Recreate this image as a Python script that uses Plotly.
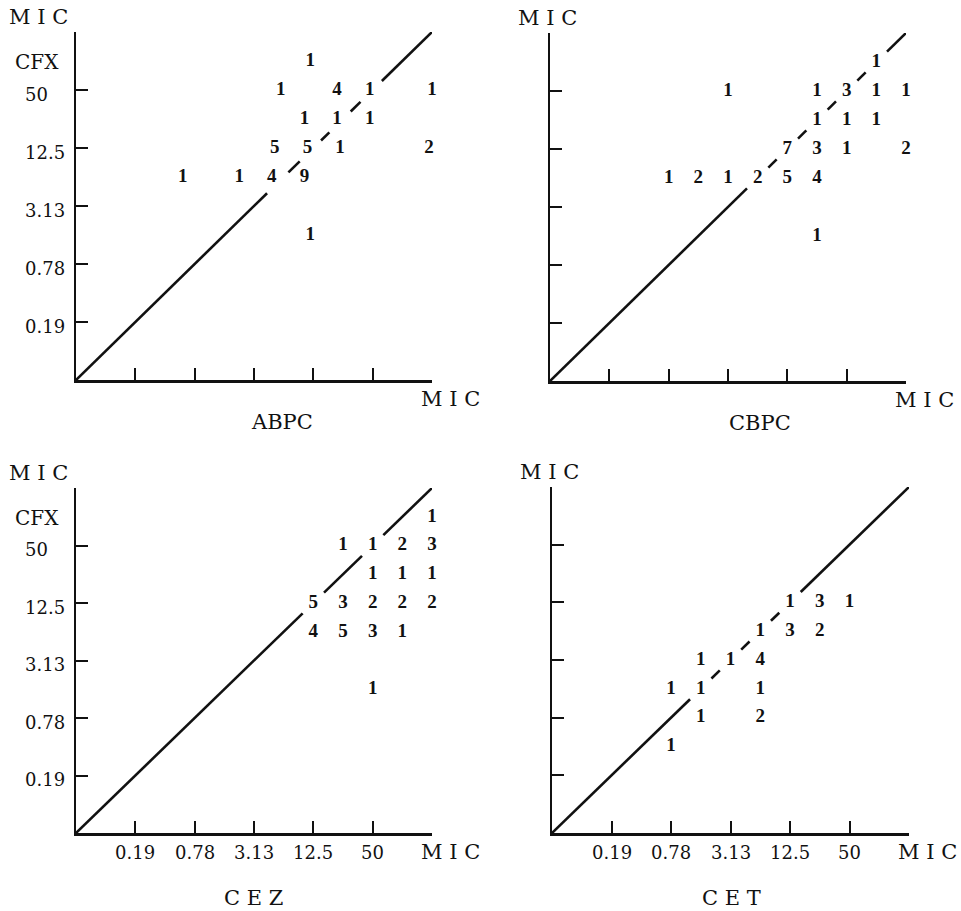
import plotly.graph_objects as go

W, H = 961, 911

# Dilution steps on both axes (0 = origin, 6 = top); labelled steps
tick_steps = [1, 2, 3, 4, 5]
tick_labels = ["0.19", "0.78", "3.13", "12.5", "50"]

panel_names = ["ABPC", "CBPC", "CEZ", "CET"]
y_drug = "CFX"

# ---- data: x = MIC step of compared drug, y = MIC step of CFX, n = number of strains
abpc_x = [3.95, 3.45, 4.4, 4.95, 6.0, 3.85, 4.4, 4.95, 3.35, 3.9, 4.45, 5.95, 1.8, 2.75, 3.3, 3.85, 3.95]
abpc_y = [5.5, 5, 5, 5, 5, 4.5, 4.5, 4.5, 4, 4, 4, 4, 3.5, 3.5, 3.5, 3.5, 2.5]
abpc_n = [1, 1, 4, 1, 1, 1, 1, 1, 5, 5, 1, 2, 1, 1, 4, 9, 1]

cbpc_x = [5.5, 3, 4.5, 5, 5.5, 6, 4.5, 5, 5.5, 4, 4.5, 5, 6, 2, 2.5, 3, 3.5, 4, 4.5, 4.5]
cbpc_y = [5.5, 5, 5, 5, 5, 5, 4.5, 4.5, 4.5, 4, 4, 4, 4, 3.5, 3.5, 3.5, 3.5, 3.5, 3.5, 2.5]
cbpc_n = [1, 1, 1, 3, 1, 1, 1, 1, 1, 7, 3, 1, 2, 1, 2, 1, 2, 5, 4, 1]

cez_x = [6, 4.5, 5, 5.5, 6, 5, 5.5, 6, 4, 4.5, 5, 5.5, 6, 4, 4.5, 5, 5.5, 5]
cez_y = [5.5, 5, 5, 5, 5, 4.5, 4.5, 4.5, 4, 4, 4, 4, 4, 3.5, 3.5, 3.5, 3.5, 2.5]
cez_n = [1, 1, 1, 2, 3, 1, 1, 1, 5, 3, 2, 2, 2, 4, 5, 3, 1, 1]

cet_x = [4, 4.5, 5, 3.5, 4, 4.5, 2.5, 3, 3.5, 2, 2.5, 3.5, 2.5, 3.5, 2]
cet_y = [4, 4, 4, 3.5, 3.5, 3.5, 3, 3, 3, 2.5, 2.5, 2.5, 2, 2, 1.5]
cet_n = [1, 3, 1, 1, 3, 2, 1, 1, 4, 1, 1, 1, 1, 2, 1]

panels = [
    (abpc_x, abpc_y, abpc_n),
    (cbpc_x, cbpc_y, cbpc_n),
    (cez_x, cez_y, cez_n),
    (cet_x, cet_y, cet_n),
]

# ---- layout geometry (pixels)
boxes = [  # x0, x1, ytop, ybottom
    (76, 432, 32, 380),
    (550, 906, 33, 381),
    (76, 432, 488, 833),
    (552, 909, 487, 833),
]


def PX(x):
    return x / W


def PY(y):
    return 1 - y / H


SERIF = "DejaVu Serif, Liberation Serif, serif"
TIMES = "Liberation Serif, Times New Roman, serif"
BLACK = "#111111"


def diag_segments(xs, ys, lo=0.0, hi=6.0, tol=0.25, gap=0.18):
    centers = sorted((x + y) / 2 for x, y in zip(xs, ys) if abs(x - y) <= tol)
    segs, start = [], lo
    for c in centers:
        a, b = c - gap, c + gap
        if a > start:
            segs.append((start, a))
        start = max(start, b)
    if start < hi:
        segs.append((start, hi))
    out = []
    for a, b in segs:
        out += [a, b, None]
    return out


fig = go.Figure()
layout = dict(
    width=W, height=H, margin=dict(l=0, r=0, t=0, b=0),
    paper_bgcolor="white", plot_bgcolor="rgba(0,0,0,0)",
    showlegend=False, annotations=[],
)

for i, ((xs, ys, ns), (x0, x1, yt, yb)) in enumerate(zip(panels, boxes)):
    k = "" if i == 0 else str(i + 1)
    xa, ya = "x" + k, "y" + k
    ax = dict(range=[0, 6], showgrid=False, zeroline=False, showline=True,
              linecolor=BLACK, linewidth=2.5, ticks="inside", ticklen=12,
              tickwidth=2, tickcolor=BLACK, tickvals=tick_steps,
              showticklabels=False, fixedrange=True)
    layout["xaxis" + k] = dict(ax, domain=[PX(x0), PX(x1)], anchor=ya)
    layout["yaxis" + k] = dict(ax, domain=[PY(yb), PY(yt)], anchor=xa)

    seg = diag_segments(xs, ys)
    fig.add_trace(go.Scatter(x=seg, y=seg, mode="lines", xaxis=xa, yaxis=ya,
                             line=dict(color=BLACK, width=2.6), hoverinfo="skip",
                             cliponaxis=False))
    fig.add_trace(go.Scatter(x=xs, y=ys, text=[str(n) for n in ns], mode="text",
                             xaxis=xa, yaxis=ya, textposition="middle center",
                             textfont=dict(family=TIMES, size=19, color=BLACK,
                                           weight="bold"),
                             cliponaxis=False, hoverinfo="skip"))

    ann = layout["annotations"]
    # y-axis title (MIC) above the axis
    ycx = 38 if i in (0, 2) else x0 - 3
    ann.append(dict(text="M I C", x=PX(ycx), y=PY(yt - 15), xref="paper",
                    yref="paper", showarrow=False, xanchor="center", yanchor="middle",
                    font=dict(family=SERIF, size=21, color=BLACK)))
    # x-axis title (MIC) right of the axis end
    ann.append(dict(text="M I C", x=PX(x1 + 18), y=PY(yb + 19), xref="paper",
                    yref="paper", showarrow=False, xanchor="center", yanchor="middle",
                    font=dict(family=SERIF, size=21, color=BLACK)))
    # drug name
    name = panel_names[i] if i < 2 else " ".join(panel_names[i])
    ny = yb + 42 if i < 2 else yb + 65
    cx = [282, 760, 253, 731][i]
    ann.append(dict(text=name, x=PX(cx), y=PY(ny), xref="paper", yref="paper",
                    showarrow=False, xanchor="center", yanchor="middle",
                    font=dict(family=SERIF, size=21, color=BLACK)))
    if i in (0, 2):
        # y tick labels (left aligned) and drug name of y axis
        for s, lab in zip(tick_steps, tick_labels):
            ann.append(dict(text=lab, x=PX(23), y=s, xref="paper", yref=ya,
                            showarrow=False, xanchor="left", yanchor="middle",
                            yshift=-4, font=dict(family=SERIF, size=18, color=BLACK)))
        ann.append(dict(text=y_drug, x=PX(13), y=5.5, xref="paper", yref=ya,
                        showarrow=False, xanchor="left", yanchor="middle",
                        yshift=-1, font=dict(family=SERIF, size=20, color=BLACK)))
    if i in (2, 3):
        for s, lab in zip(tick_steps, tick_labels):
            ann.append(dict(text=lab, x=s, y=PY(yb + 19), xref=xa, yref="paper",
                            showarrow=False, xanchor="center", yanchor="middle",
                            font=dict(family=SERIF, size=18, color=BLACK)))

fig.update_layout(**layout)
fig.write_html(
    "out.html",
    config={"displayModeBar": False, "staticPlot": True},
    post_script="document.body.style.margin='0';document.body.style.overflow='hidden';",
)
